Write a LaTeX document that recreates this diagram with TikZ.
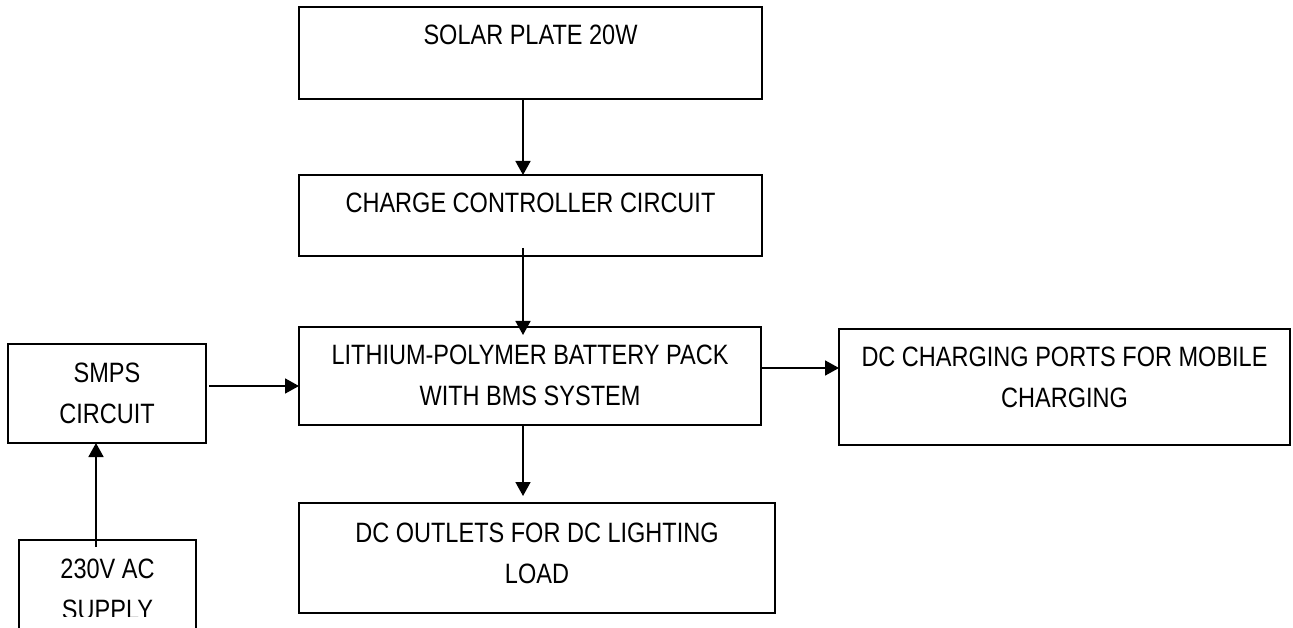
\documentclass[tikz,border=0pt]{standalone}
\usepackage{fontspec}
\setmainfont{Liberation Sans}[FakeStretch=0.84]
\usetikzlibrary{arrows.meta}
\begin{document}
\begin{tikzpicture}[x=1pt,y=-1pt,
  box/.style={draw, line width=1.9pt, inner sep=0pt, outer sep=0pt, anchor=north west},
  boxline/.style={line width=1.9pt},
  lab/.style={anchor=north, inner sep=0pt, outer sep=0pt, yshift=-18pt, align=center,
              font=\fontsize{28}{41}\selectfont},
  arr/.style={line width=1.7pt, -{Triangle[length=14pt,width=15pt]}}]
\useasboundingbox (0,0) rectangle (1293,628);
\clip (0,0) rectangle (1293,628);

\node[box, minimum width=463pt, minimum height=92pt,
      label={[lab]north:SOLAR PLATE 20W}] (solar) at (299,7) {};
\node[box, minimum width=463pt, minimum height=81pt,
      label={[lab]north:CHARGE CONTROLLER CIRCUIT}] (charge) at (299,175) {};
\node[box, minimum width=462pt, minimum height=98pt,
      label={[lab]north:LITHIUM-POLYMER BATTERY PACK\\WITH BMS SYSTEM}] (bat) at (299,327) {};
\node[box, minimum width=451pt, minimum height=116pt,
      label={[lab]north:DC CHARGING PORTS FOR MOBILE\\CHARGING}] (ports) at (839,329) {};
\node[box, minimum width=476pt, minimum height=110pt,
      label={[lab, yshift=-2pt]north:DC OUTLETS FOR DC LIGHTING\\LOAD}] (outlets) at (299,503) {};
\node[box, minimum width=198pt, minimum height=99pt,
      label={[lab, yshift=-1pt]north:SMPS\\CIRCUIT}] (smps) at (8,344) {};
\begin{scope}
  \clip (0,0) rectangle (1293,616);
  \node[box, minimum width=177pt, minimum height=100pt,
        label={[lab, yshift=-1pt]north:230V AC\\SUPPLY}] (ac) at (19,540) {};
\end{scope}
\coordinate (cut) at (0,615);
\draw[boxline] (ac.west |- cut) -- (ac.south west);
\draw[boxline] (ac.east |- cut) -- (ac.south east);

% connectors
\coordinate (p1) at ([xshift=-7.5pt]solar.south);
\draw[arr] (p1) -- (p1 |- charge.north);
\coordinate (p2) at ([xshift=-7.5pt]charge.south);
\draw[arr, shorten <=-8pt, shorten >=-8pt] (p2) -- (p2 |- bat.north);
\coordinate (p3) at ([xshift=-7pt]bat.south);
\draw[arr, shorten >=7pt] (p3) -- (p3 |- outlets.north);
\coordinate (p4) at ([yshift=8pt]bat.east);
\draw[arr] (p4) -- (p4 -| ports.west);
\coordinate (p5) at ([yshift=7.5pt]smps.east);
\draw[arr, shorten <=3pt] (p5) -- (p5 -| bat.west);
\coordinate (p6) at ([xshift=-11.5pt]ac.north);
\draw[arr, shorten <=-7pt] (p6) -- (p6 |- smps.south);
\end{tikzpicture}
\end{document}
